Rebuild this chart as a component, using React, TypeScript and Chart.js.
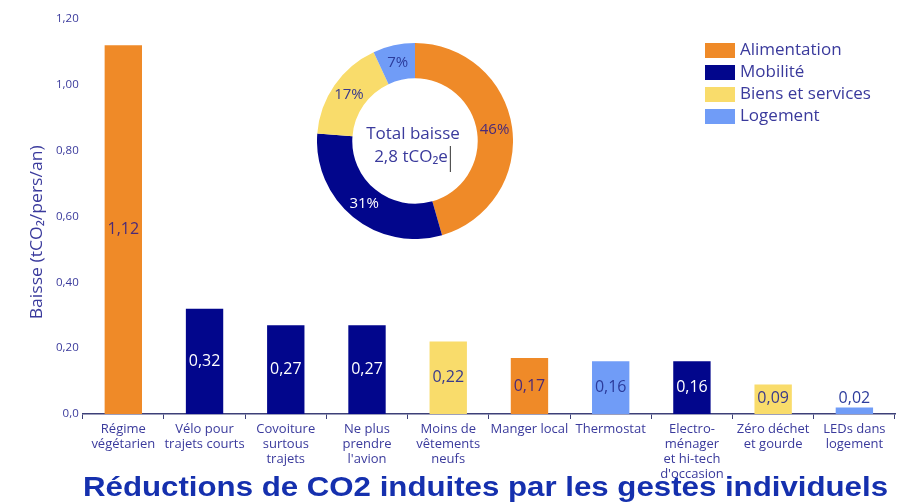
import { useEffect, useRef } from "react";
import { Chart, registerables } from "chart.js";

Chart.register(...registerables);

const categories: (string | string[])[] = [
  ["Régime", "végétarien"],
  ["Vélo pour", "trajets courts"],
  ["Covoiture", "surtous", "trajets"],
  ["Ne plus", "prendre", "l'avion"],
  ["Moins de", "vêtements", "neufs"],
  "Manger local",
  "Thermostat",
  ["Electro-", "ménager", "et hi-tech", "d'occasion"],
  ["Zéro déchet", "et gourde"],
  ["LEDs dans", "logement"],
];
const values = [1.12, 0.32, 0.27, 0.27, 0.22, 0.17, 0.16, 0.16, 0.09, 0.02];
const sectorOfCategory = [0, 1, 1, 1, 2, 0, 3, 1, 2, 3];
const sectorNames = ["Alimentation", "Mobilité", "Biens et services", "Logement"];
const sectorColors = ["#EF8A28", "#02068C", "#F9DC6B", "#709CF7"];
const sectorLabelColors = ["#4a2a78", "#ffffff", "#3a3a8c", "#2c3c9c"];
const sharePercent = [46, 31, 17, 7];
const yMax = 1.2;
const yStep = 0.2;
const titleText = "Réductions de CO2 induites par les gestes individuels";
const yAxisTitle = "Baisse (tCO₂/pers/an)";
const donutCenterLines = ["Total baisse", "2,8 tCO₂e"];

const TEXT = "#3a3a9c";
const FONT = "'Open Sans', sans-serif";

const fmt = (v: number) => v.toFixed(2).replace(".", ",");

export default function App() {
  const barRef = useRef<HTMLCanvasElement>(null);
  const donutRef = useRef<HTMLCanvasElement>(null);

  useEffect(() => {
    const datasets = sectorNames.map((name, s) => ({
      label: name,
      data: values.map((v, i) => (sectorOfCategory[i] === s ? v : null)),
      backgroundColor: sectorColors[s],
      borderWidth: 0,
      grouped: false,
      barPercentage: 0.46,
      categoryPercentage: 1,
    }));

    const barLabels = {
      id: "barLabels",
      afterDatasetsDraw(chart: any) {
        const ctx = chart.ctx;
        ctx.save();
        ctx.font = `16px ${FONT}`;
        ctx.textAlign = "center";
        ctx.textBaseline = "middle";
        chart.data.datasets.forEach((ds: any, di: number) => {
          const meta = chart.getDatasetMeta(di);
          meta.data.forEach((el: any, j: number) => {
            const v = ds.data[j];
            if (v === null || v === undefined) return;
            const p = el.getProps(["x", "y", "base"], true);
            const cy = Math.min((p.y + p.base) / 2, p.base - 16);
            ctx.fillStyle = sectorLabelColors[di];
            ctx.fillText(fmt(v), p.x, cy);
          });
        });
        ctx.restore();
      },
      afterDraw(chart: any) {
        const ctx = chart.ctx;
        const area = chart.chartArea;
        ctx.save();
        // y axis title
        ctx.save();
        ctx.font = `16px ${FONT}`;
        ctx.fillStyle = TEXT;
        ctx.textAlign = "center";
        ctx.textBaseline = "middle";
        ctx.translate(37, area.top + (area.bottom - area.top) * 0.54);
        ctx.rotate(-Math.PI / 2);
        const tw = ctx.measureText(yAxisTitle).width;
        ctx.scale(174 / tw, 1);
        ctx.fillText(yAxisTitle, 0, 0);
        ctx.restore();
        // legend
        const lx = area.right - 190;
        let ly = 43;
        chart.data.datasets.forEach((ds: any) => {
          ctx.fillStyle = ds.backgroundColor;
          ctx.fillRect(lx, ly, 30, 15);
          ctx.fillStyle = TEXT;
          ctx.font = `17px ${FONT}`;
          ctx.textAlign = "left";
          ctx.textBaseline = "middle";
          ctx.fillText(ds.label, lx + 35, ly + 7.5);
          ly += 22;
        });
        // title
        ctx.save();
        ctx.font = `bold 28px 'Liberation Sans', Arial, sans-serif`;
        ctx.fillStyle = "#1530ae";
        ctx.textAlign = "left";
        ctx.textBaseline = "alphabetic";
        const w = ctx.measureText(titleText).width;
        ctx.translate(83, 496);
        ctx.scale(805 / w, 1);
        ctx.fillText(titleText, 0, 0);
        ctx.restore();
        ctx.restore();
      },
    };

    const bar = new Chart(barRef.current!, {
      type: "bar",
      data: { labels: categories, datasets },
      plugins: [barLabels],
      options: {
        animation: false,
        responsive: false,
        layout: { padding: { left: 52, right: 19, top: 19, bottom: 19 } },
        plugins: { legend: { display: false }, tooltip: { enabled: false } },
        scales: {
          x: {
            grid: {
              display: true,
              drawOnChartArea: false,
              drawTicks: true,
              tickLength: 5,
              color: "#3d4078",
              offset: true,
            },
            border: { display: true, color: "#3d4078", width: 1.5 },
            ticks: {
              color: TEXT,
              font: { family: FONT, size: 13, lineHeight: 15 / 13 },
              maxRotation: 0,
              autoSkip: false,
              padding: 3,
            },
          },
          y: {
            min: 0,
            max: yMax,
            grid: { display: false, drawTicks: false },
            border: { display: false },
            ticks: {
              stepSize: yStep,
              color: TEXT,
              font: { family: FONT, size: 11.5 },
              padding: 4,
              callback: (v: any) => (Number(v) === 0 ? "0,0" : fmt(Number(v))),
            },
            title: { display: false },
          },
        },
      },
    });

    const donutText = {
      id: "donutText",
      afterDatasetsDraw(chart: any) {
        const ctx = chart.ctx;
        ctx.save();
        const meta = chart.getDatasetMeta(0);
        ctx.font = `15px ${FONT}`;
        ctx.textAlign = "center";
        ctx.textBaseline = "middle";
        meta.data.forEach((el: any, i: number) => {
          const pos = el.tooltipPosition(true);
          ctx.fillStyle = sectorLabelColors[i];
          ctx.fillText(sharePercent[i] + "%", pos.x, pos.y);
        });
        const arc = meta.data[0];
        const cx = arc.x;
        const cy = arc.y;
        ctx.fillStyle = TEXT;
        ctx.font = `17px ${FONT}`;
        ctx.fillText(donutCenterLines[0], cx - 2, cy - 7);
        ctx.fillText(donutCenterLines[1], cx - 4, cy + 16);
        const w = ctx.measureText(donutCenterLines[1]).width;
        ctx.strokeStyle = "#333";
        ctx.lineWidth = 1;
        ctx.beginPath();
        ctx.moveTo(cx - 4 + w / 2 + 2.5, cy + 5);
        ctx.lineTo(cx - 4 + w / 2 + 2.5, cy + 31);
        ctx.stroke();
        ctx.restore();
      },
    };

    const donut = new Chart(donutRef.current!, {
      type: "doughnut",
      data: {
        labels: sectorNames,
        datasets: [
          {
            data: sharePercent,
            backgroundColor: sectorColors,
            borderWidth: 0,
          },
        ],
      },
      plugins: [donutText],
      options: {
        animation: false,
        responsive: false,
        cutout: "64%",
        layout: { padding: 0 },
        plugins: { legend: { display: false }, tooltip: { enabled: false } },
      },
    });

    return () => {
      bar.destroy();
      donut.destroy();
    };
  }, []);

  return (
    <div style={{ position: "absolute", left: 0, top: 0, width: 914, height: 504, background: "#fff" }}>
      <canvas ref={barRef} width={914} height={504} style={{ position: "absolute", left: 0, top: 0 }} />
      <canvas
        ref={donutRef}
        width={196}
        height={196}
        style={{ position: "absolute", left: 317, top: 43 }}
      />
    </div>
  );
}
